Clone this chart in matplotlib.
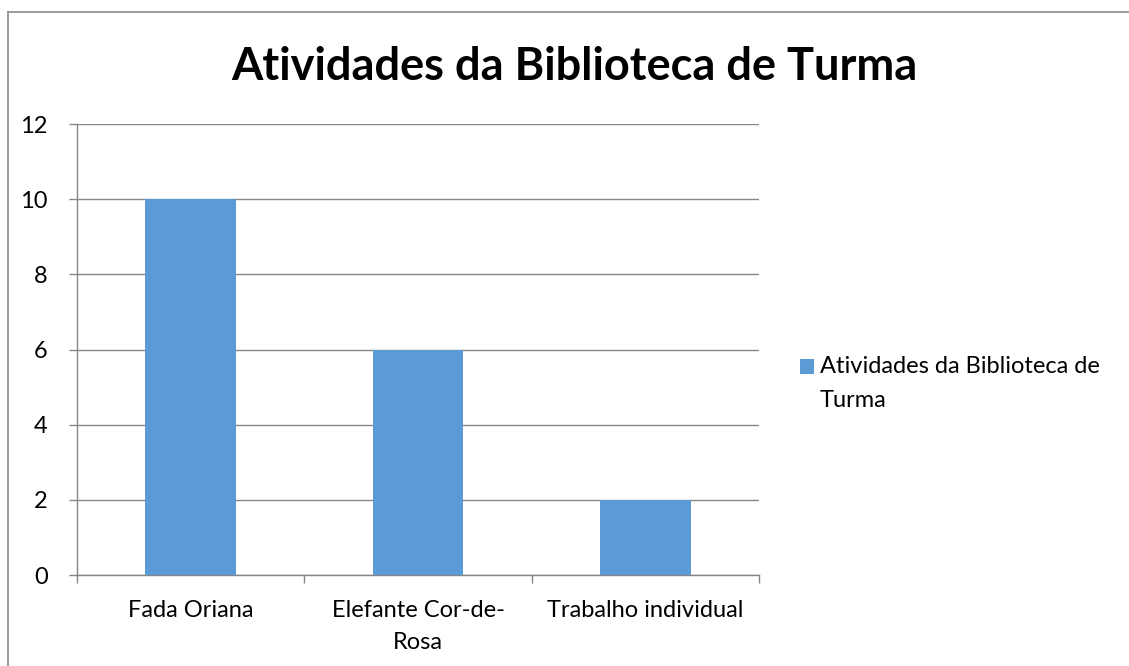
import matplotlib
matplotlib.use("Agg")
import matplotlib.pyplot as plt
from matplotlib.lines import Line2D

categories = ["Fada Oriana", "Elefante Cor-de-\nRosa", "Trabalho individual"]
values = [10, 6, 2]
series_name = "Atividades da Biblioteca de\nTurma"
title = "Atividades da Biblioteca de Turma"
yticks = [0, 2, 4, 6, 8, 10, 12]

plt.rcParams['font.family'] = ['Lato', 'DejaVu Sans']

W, H = 1129, 666
fig = plt.figure(figsize=(W / 100, H / 100), dpi=100)
ax = fig.add_axes([77 / W, 1 - 575 / H, (759 - 77) / W, (575 - 124) / H])

grid_c = "#868686"
bar_c = "#5B9BD5"

x = list(range(len(categories)))
ax.bar(x, values, width=0.4, color=bar_c, label=series_name, zorder=3)
ax.set_xlim(-0.5, len(categories) - 0.5)
ax.set_ylim(0, 12)
ax.set_yticks(yticks)
ax.set_yticklabels([str(v) for v in yticks], fontsize=17)
ax.yaxis.grid(True, color=grid_c, linewidth=1, zorder=0)
ax.set_axisbelow(True)

ax.set_xticks(x)
ax.set_xticklabels(categories, fontsize=17, linespacing=1.65)
ax.tick_params(axis='x', which='major', length=0, pad=18)
ax.set_xticks([i - 0.5 for i in range(len(categories) + 1)], minor=True)
ax.tick_params(axis='x', which='minor', length=6, color=grid_c, width=1)
ax.tick_params(axis='y', length=6, color=grid_c, width=1, pad=15)
for lbl in ax.get_yticklabels():
    lbl.set_horizontalalignment('right')

for s in ['top', 'right']:
    ax.spines[s].set_visible(False)
for s in ['left', 'bottom']:
    ax.spines[s].set_color(grid_c)
    ax.spines[s].set_linewidth(1)

fig.text(574 / W, 1 - 67 / H, title, fontsize=32.5, fontweight='bold',
         ha='center', va='center')

leg = fig.legend(loc='upper left', bbox_to_anchor=(800 / W, 1 - 356 / H),
                 frameon=False, fontsize=17, handlelength=0.6, handleheight=0.6,
                 handletextpad=0.25, borderaxespad=0, borderpad=0)
for t in leg.get_texts():
    t.set_linespacing(1.75)
# align the legend swatch with the first text line
for h in leg.legend_handles:
    h.set_y(h.get_y() + 12.5)

# outer chart border (cropped at right and bottom)
bx, by = 8 / W, 1 - 12 / H
fig.add_artist(Line2D([bx, bx], [by, 0], transform=fig.transFigure, color="#8c8c8c", lw=1.2))
fig.add_artist(Line2D([bx, 1], [by, by], transform=fig.transFigure, color="#8c8c8c", lw=1.2))

fig.savefig("out.png", dpi=100, facecolor="white")
